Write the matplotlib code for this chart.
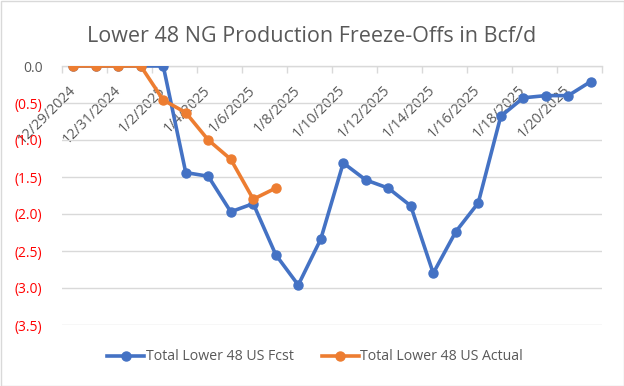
import matplotlib
matplotlib.use("Agg")
import matplotlib.pyplot as plt
from matplotlib.lines import Line2D
from matplotlib.patches import Rectangle
from matplotlib.ticker import FuncFormatter, FixedLocator

plt.rcParams['font.family'] = ['Open Sans', 'DejaVu Sans']

dates = ["12/29/2024", "12/30/2024", "12/31/2024", "1/1/2025", "1/2/2025", "1/3/2025",
         "1/4/2025", "1/5/2025", "1/6/2025", "1/7/2025", "1/8/2025", "1/9/2025",
         "1/10/2025", "1/11/2025", "1/12/2025", "1/13/2025", "1/14/2025", "1/15/2025",
         "1/16/2025", "1/17/2025", "1/18/2025", "1/19/2025", "1/20/2025", "1/21/2025"]
fcst = [0.0, 0.0, 0.0, 0.0, 0.0, -1.44, -1.49, -1.97, -1.86, -2.55, -2.96, -2.34,
        -1.31, -1.54, -1.65, -1.89, -2.80, -2.24, -1.85, -0.68, -0.43, -0.40, -0.40, -0.21]
actual = [0.0, 0.0, 0.0, 0.0, -0.46, -0.63, -1.00, -1.26, -1.80, -1.65]

BLUE = "#4472C4"
ORANGE = "#ED7D31"
GRAY = "#595959"
GRID = "#D9D9D9"

fig = plt.figure(figsize=(6.24, 3.86), dpi=100)
ax = fig.add_axes([62/624, 1-325/386, 540/624, 259/386])

x_f = list(range(len(fcst)))
x_a = list(range(len(actual)))
ax.plot(x_f, fcst, color=BLUE, lw=2.6, marker='o', ms=6.5, solid_capstyle='round', zorder=3,
        label="Total Lower 48 US Fcst")
ax.plot(x_a, actual, color=ORANGE, lw=2.6, marker='o', ms=6.5, solid_capstyle='round', zorder=4,
        label="Total Lower 48 US Actual")

ax.set_xlim(-0.5, len(dates) - 0.5)
ax.set_ylim(-3.5, 0)
yt = [0, -0.5, -1, -1.5, -2, -2.5, -3, -3.5]
ax.set_yticks(yt)
ax.yaxis.set_major_formatter(FuncFormatter(lambda v, p: "0.0" if abs(v) < 1e-9 else f"({abs(v):.1f})"))
ax.tick_params(axis='y', length=0, pad=14, labelsize=10)
for lbl, v in zip(ax.get_yticklabels(), yt):
    lbl.set_color(GRAY if v == 0 else "red")
ax.grid(axis='y', color=GRID, lw=1.0, zorder=0)
ax.set_axisbelow(True)

for s in ['left', 'right', 'top']:
    ax.spines[s].set_visible(False)
ax.spines['bottom'].set_position(('data', 0))
ax.spines['bottom'].set_color(GRID)
ax.spines['bottom'].set_linewidth(1.0)

ax.xaxis.set_major_locator(FixedLocator(list(range(0, len(dates), 2))))
ax.set_xticklabels([dates[i] for i in range(0, len(dates), 2)], rotation=45, ha='right',
                   rotation_mode='anchor', va='center', color=GRAY, fontsize=10.3)
ax.tick_params(axis='x', which='major', length=0, pad=16)
ax.xaxis.set_minor_locator(FixedLocator([i - 0.5 for i in range(0, len(dates) + 1, 2)]))
ax.tick_params(axis='x', which='minor', length=5, color=GRID, width=1.0)

fig.text(0.5, 1 - 36/386, "Lower 48 NG Production Freeze-Offs in Bcf/d", ha='center', va='center',
         fontsize=15.5, color=GRAY)

handles = [Line2D([0], [0], color=BLUE, lw=2.6, marker='o', ms=6.5),
           Line2D([0], [0], color=ORANGE, lw=2.6, marker='o', ms=6.5)]
fig.legend(handles, ["Total Lower 48 US Fcst", "Total Lower 48 US Actual"], loc='center',
           bbox_to_anchor=(0.505, 1 - 357/386), ncol=2, frameon=False, fontsize=10.2,
           labelcolor=GRAY, handlelength=2.6, handletextpad=0.1, columnspacing=2.0)

fig.patches.append(Rectangle((0.5/624, 0.5/386), 1 - 1/624, 1 - 1/386, transform=fig.transFigure,
                             fill=False, edgecolor=GRID, lw=1.0))

fig.savefig("out.png", dpi=100)
